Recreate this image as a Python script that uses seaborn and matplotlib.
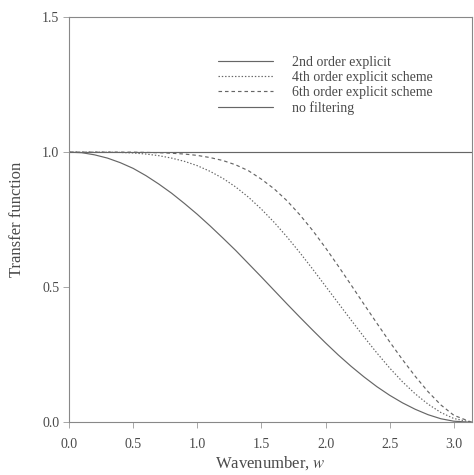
import numpy as np
import pandas as pd
import seaborn as sns
import matplotlib.pyplot as plt

# values
wavenumber = [0.0, 0.1, 0.2, 0.3, 0.4, 0.5, 0.6, 0.7, 0.8, 0.9,
              1.0, 1.1, 1.2, 1.3, 1.4, 1.5, 1.6, 1.7, 1.8, 1.9,
              2.0, 2.1, 2.2, 2.3, 2.4, 2.5, 2.6, 2.7, 2.8, 2.9,
              3.0, 3.14]
explicit_2nd = [1.000, 0.998, 0.990, 0.978, 0.961, 0.940, 0.913, 0.882, 0.848, 0.810,
                0.770, 0.727, 0.682, 0.636, 0.587, 0.538, 0.488, 0.438, 0.389, 0.341,
                0.294, 0.249, 0.207, 0.168, 0.132, 0.100, 0.072, 0.048, 0.028, 0.013,
                0.004, 0.0]
explicit_4th = [1.000, 1.000, 1.000, 1.000, 0.999, 0.997, 0.993, 0.987, 0.978, 0.966,
                0.950, 0.929, 0.903, 0.871, 0.833, 0.789, 0.740, 0.686, 0.628, 0.567,
                0.504, 0.441, 0.378, 0.316, 0.257, 0.201, 0.150, 0.105, 0.067, 0.036,
                0.014, 0.0]
explicit_6th = [1.000, 1.000, 1.000, 1.000, 1.000, 1.000, 0.999, 0.998, 0.996, 0.993,
                0.988, 0.980, 0.969, 0.953, 0.931, 0.900, 0.864, 0.820, 0.768, 0.710,
                0.646, 0.578, 0.508, 0.437, 0.367, 0.298, 0.232, 0.170, 0.113, 0.064,
                0.026, 0.0]
no_filtering = [1.0] * len(wavenumber)

labels = ["2nd order explicit", "4th order explicit scheme",
          "6th order explicit scheme", "no filtering"]

df = pd.DataFrame({"w": wavenumber,
                   labels[0]: explicit_2nd,
                   labels[1]: explicit_4th,
                   labels[2]: explicit_6th,
                   labels[3]: no_filtering})

sns.set_style("ticks")
plt.rcParams['font.family'] = ['Liberation Serif', 'DejaVu Serif']
plt.rcParams['mathtext.fontset'] = 'stix'
ink = "#4a4a4a"

fig = plt.figure(figsize=(4.74, 4.75), dpi=100)
ax = fig.add_axes([0.1456, 0.111, 0.850, 0.853])

styles = {labels[0]: "-", labels[1]: (0, (1.2, 1.6)),
          labels[2]: (0, (3, 2.5)), labels[3]: "-"}
for name in labels:
    sns.lineplot(data=df, x="w", y=name, ax=ax, color="#666666",
                 linewidth=0.85, linestyle=styles[name], label=name)

ax.set_xlim(0, np.pi)
ax.set_ylim(0, 1.5)
ax.set_xticks([0.0, 0.5, 1.0, 1.5, 2.0, 2.5, 3.0])
ax.set_yticks([0.0, 0.5, 1.0, 1.5])
ax.xaxis.set_major_formatter(plt.FormatStrFormatter("%.1f"))
ax.yaxis.set_major_formatter(plt.FormatStrFormatter("%.1f"))
ax.tick_params(direction="out", width=0.6, color="#999999",
               labelsize=10, labelcolor=ink)
ax.tick_params(axis="x", length=4, pad=7)
ax.tick_params(axis="y", length=4, pad=3)
for sp in ax.spines.values():
    sp.set_color("#888888")
    sp.set_linewidth(0.8)

ax.set_xlabel("Wavenumber, $\\mathit{w}$", fontsize=12, color=ink, labelpad=3)
ax.set_ylabel("Transfer function", fontsize=12, color=ink, labelpad=12)

leg = ax.legend(loc="upper left", bbox_to_anchor=(0.338, 0.935), frameon=False,
                fontsize=10, handlelength=4.0, handletextpad=1.35,
                labelspacing=0.15, labelcolor=ink)

fig.savefig("out.png", dpi=100)
